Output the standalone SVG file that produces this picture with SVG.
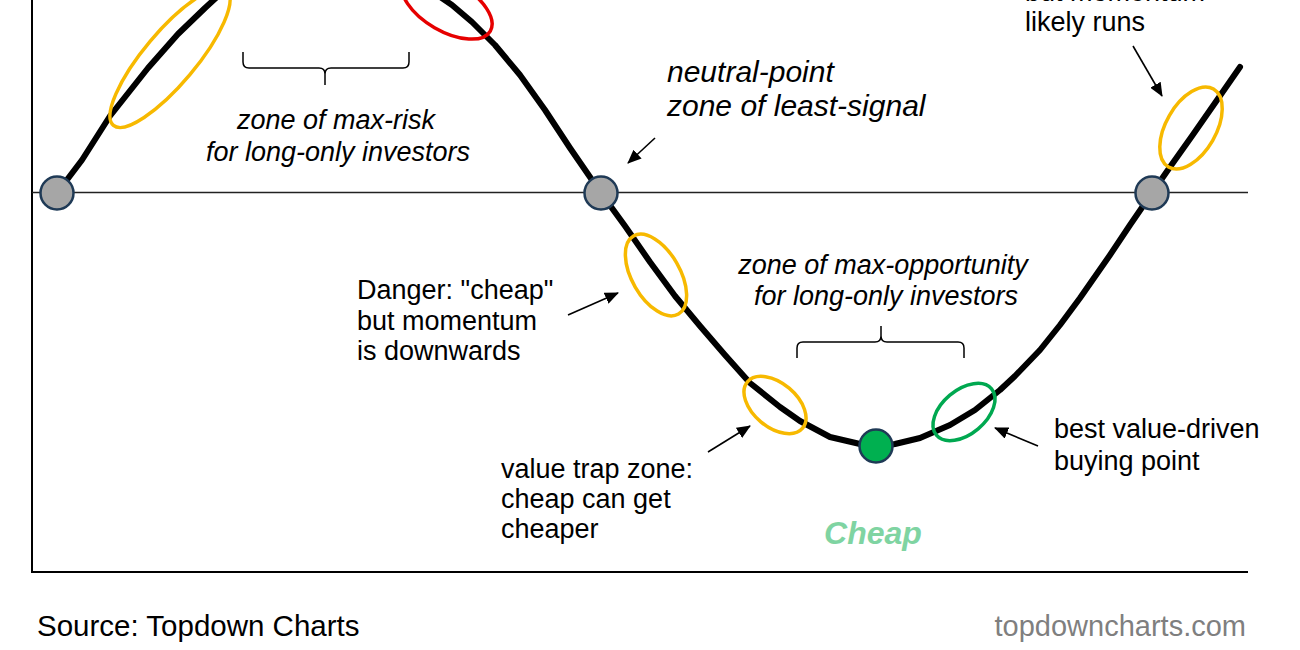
<svg xmlns="http://www.w3.org/2000/svg" width="1300" height="650" viewBox="0 0 1300 650">
<style>
.t{font-family:"Liberation Sans",Arial,sans-serif;font-size:27px;fill:#000}
.i{font-style:italic}
.axis{stroke:#000;stroke-width:2;fill:none}
.mid{stroke:#222;stroke-width:1.5;fill:none}
.curve{stroke:#000;stroke-width:6;fill:none;stroke-linejoin:round;stroke-linecap:round}
.ring{fill:none;stroke-width:3.5}
.y{stroke:#f7b900}
.r{stroke:#e60000}
.g{stroke:#00a850}
.node{stroke:#1f3a56;stroke-width:2.5}
.arr{stroke:#000;stroke-width:1.6;fill:none}
.brace{stroke:#000;stroke-width:1.5;fill:none}
</style>
<defs>
<marker id="ah" markerWidth="14" markerHeight="12" refX="13" refY="6" orient="auto" markerUnits="userSpaceOnUse">
<path d="M0,0 L14,6 L0,12 Z" fill="#000"/>
</marker>
</defs>
<rect width="1300" height="650" fill="#fff"/>
<g id="axes">
<line class="axis" x1="32" y1="0" x2="32" y2="573"/>
<line class="axis" x1="31" y1="572" x2="1248" y2="572"/>
<line class="mid" x1="32" y1="192.5" x2="1248" y2="192.5"/>
</g>
<g id="curve">
<polyline class="curve" points="57,193 82,160 110,116 148,68 178,34 205,8 230,-15 270,-45 330,-60 390,-40 430,-10 452,5 472,22 495,45 520,75 545,110 570,148 601,193 625,226 650,262 675,296 700,326 725,355 750,383 780,407 800,421 830,437 860,444 876,447 895,444 920,438 950,425 975,410 1000,390 1015,376 1040,350 1060,325 1080,298 1110,255 1130,225 1152,193 1170,167 1192,136 1215,103 1240,67"/>
</g>
<g id="highlights">
<ellipse class="ring y" cx="170" cy="58" rx="88" ry="26" transform="rotate(-50 170 58)"/>
<ellipse class="ring r" cx="447" cy="6" rx="50" ry="25" transform="rotate(30 447 6)"/>
<ellipse class="ring y" cx="656" cy="275" rx="45" ry="24" transform="rotate(60 656 275)"/>
<ellipse class="ring y" cx="775" cy="405" rx="36" ry="22" transform="rotate(40 775 405)"/>
<ellipse class="ring g" cx="964" cy="412" rx="36" ry="22" transform="rotate(-40 964 412)"/>
<ellipse class="ring y" cx="1191" cy="128" rx="45" ry="25" transform="rotate(-60 1191 128)"/>
</g>
<g id="node-left"><circle class="node" cx="57" cy="193" r="16.5" fill="#a6a6a6"/></g>
<g id="node-mid"><circle class="node" cx="601" cy="193" r="16.5" fill="#a6a6a6"/></g>
<g id="node-right"><circle class="node" cx="1152" cy="193" r="16.5" fill="#a6a6a6"/></g>
<g id="node-cheap"><circle class="node" cx="876" cy="446" r="16.5" fill="#00b050"/></g>
<g id="connectors">
<line class="arr" x1="1133" y1="46" x2="1162" y2="96" marker-end="url(#ah)"/>
<line class="arr" x1="655" y1="138" x2="628" y2="163" marker-end="url(#ah)"/>
<line class="arr" x1="568" y1="315" x2="618" y2="293" marker-end="url(#ah)"/>
<line class="arr" x1="708" y1="452" x2="750" y2="426" marker-end="url(#ah)"/>
<line class="arr" x1="1038" y1="446" x2="995" y2="428" marker-end="url(#ah)"/>
</g>
<g id="brace-risk">
<path class="brace" d="M243,52 L243,62 Q243,68 249,68 L319,68 Q325,68 325,74 L325,85 M325,74 Q325,68 331,68 L403,68 Q409,68 409,62 L409,52"/>
</g>
<g id="brace-opportunity">
<path class="brace" d="M797,358 L797,348 Q797,342 803,342 L875,342 Q881,342 881,336 L881,326 M881,336 Q881,342 887,342 L958,342 Q964,342 964,348 L964,358"/>
</g>
<g id="label-risk">
<text class="t i" x="336" y="129" text-anchor="middle">zone of max-risk</text>
<text class="t i" x="338" y="161" text-anchor="middle">for long-only investors</text>
</g>
<g id="label-neutral">
<text class="t i" x="667" y="82" style="font-size:30px">neutral-point</text>
<text class="t i" x="667" y="116" style="font-size:30px">zone of least-signal</text>
</g>
<g id="label-momentum">
<text class="t" x="1025" y="1">but momentum</text>
<text class="t" x="1025" y="31">likely runs</text>
</g>
<g id="label-danger">
<text class="t" x="357" y="299">Danger: "cheap"</text>
<text class="t" x="357" y="330">but momentum</text>
<text class="t" x="357" y="360">is downwards</text>
</g>
<g id="label-opportunity">
<text class="t i" x="883" y="274" text-anchor="middle">zone of max-opportunity</text>
<text class="t i" x="886" y="305" text-anchor="middle">for long-only investors</text>
</g>
<g id="label-trap">
<text class="t" x="501" y="478">value trap zone:</text>
<text class="t" x="501" y="508">cheap can get</text>
<text class="t" x="501" y="538">cheaper</text>
</g>
<g id="label-best">
<text class="t" x="1054" y="438">best value-driven</text>
<text class="t" x="1054" y="470">buying point</text>
</g>
<g id="label-cheap">
<text class="t" x="873" y="544" text-anchor="middle" style="font-size:32px;font-weight:bold;font-style:italic;fill:#7fd4a2">Cheap</text>
</g>
<g id="footer">
<text class="t" x="37" y="636" style="font-size:29.5px">Source: Topdown Charts</text>
<text class="t" x="1246" y="636" text-anchor="end" style="font-size:29px;fill:#7f7f7f">topdowncharts.com</text>
</g>
</svg>
